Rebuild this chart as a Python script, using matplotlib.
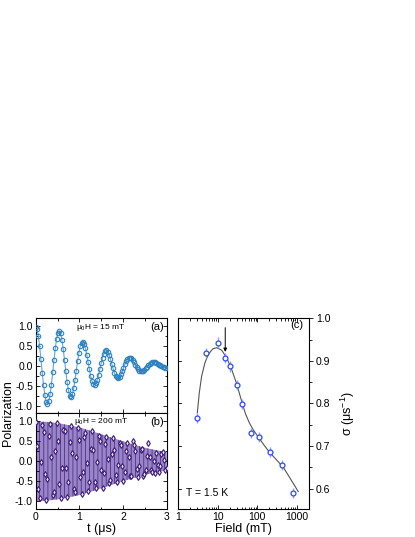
import numpy as np
import matplotlib
matplotlib.use('Agg')
import matplotlib.pyplot as plt
from matplotlib.ticker import MultipleLocator, LogLocator, NullFormatter

plt.rcParams['font.family'] = ['Liberation Sans', 'DejaVu Sans']
plt.rcParams['mathtext.fontset'] = 'custom'
plt.rcParams['mathtext.rm'] = 'Liberation Sans'
plt.rcParams['mathtext.it'] = 'Liberation Sans:italic'
plt.rcParams['hatch.linewidth'] = 0.6

# ---- panel (a): 15 mT, time step 0.03 us
t_a = [round(0.03 * i, 2) for i in range(101)]
p_a = [0.99, 0.94, 0.76, 0.49, 0.17, -0.17, -0.49, -0.74, -0.91, -0.96,
       -0.89, -0.72, -0.47, -0.16, 0.16, 0.45, 0.69, 0.84, 0.88, 0.82,
       0.66, 0.43, 0.15, -0.14, -0.41, -0.62, -0.75, -0.79, -0.72, -0.57,
       -0.36, -0.12, 0.12, 0.33, 0.49, 0.58, 0.60, 0.55, 0.44, 0.28,
       0.09, -0.09, -0.26, -0.38, -0.45, -0.47, -0.43, -0.35, -0.22, -0.08,
       0.07, 0.21, 0.31, 0.38, 0.39, 0.36, 0.28, 0.18, 0.06, -0.06,
       -0.17, -0.25, -0.29, -0.30, -0.27, -0.21, -0.14, -0.05, 0.04, 0.12,
       0.18, 0.21, 0.21, 0.19, 0.15, 0.09, 0.03, -0.03, -0.08, -0.12,
       -0.14, -0.14, -0.13, -0.10, -0.06, -0.02, 0.02, 0.05, 0.08, 0.09,
       0.10, 0.09, 0.07, 0.05, 0.03, 0.01, -0.01, -0.03, -0.04, -0.05,
       -0.05]

# ---- panel (b): 200 mT, envelope of the fast oscillation and data
t_env = [0, 0.25, 0.5, 0.75, 1.0, 1.25, 1.5, 1.75, 2.0, 2.25, 2.5, 2.75, 3.0]
amp_env = [1.0, 0.99, 0.96, 0.91, 0.85, 0.77, 0.68, 0.59, 0.50, 0.42, 0.34, 0.28, 0.23]

t_b = [round(0.03 * i, 2) for i in range(101)]
p_b = [0.98, 0.39, -0.70, -0.93, -0.02, 0.90, 0.73, -0.33, -0.97, -0.44,
       0.63, 0.94, 0.10, -0.85, -0.77, 0.25, 0.95, 0.50, -0.56, -0.92,
       -0.16, 0.78, 0.77, -0.18, -0.90, -0.52, 0.48, 0.89, 0.21, -0.70,
       -0.76, 0.10, 0.83, 0.54, -0.40, -0.83, -0.26, 0.61, 0.72, -0.04,
       -0.74, -0.53, 0.31, 0.76, 0.28, -0.52, -0.67, -0.01, 0.64, 0.50,
       -0.23, -0.67, -0.29, 0.43, 0.61, 0.06, -0.54, -0.47, 0.17, 0.58,
       0.29, -0.34, -0.53, -0.09, 0.45, 0.42, -0.11, -0.49, -0.27, 0.26,
       0.46, 0.10, -0.36, -0.38, 0.50, 0.41, 0.25, -0.19, -0.39, -0.11,
       0.28, 0.32, -0.36, -0.32, -0.22, 0.14, 0.47, 0.11, -0.22, -0.28,
       0.00, -0.30, 0.20, -0.10, -0.27, -0.11, 0.17, 0.24, 0.02, -0.21,
       -0.18]

# ---- panel (c): relaxation rate vs field
field = [3.06, 5.16, 10.2, 15.3, 20.4, 30.6, 40.2, 69, 112, 207, 417, 776]
sigma = [0.766, 0.918, 0.943, 0.906, 0.887, 0.843, 0.798, 0.730, 0.721, 0.686, 0.656, 0.590]
sigma_err = [0.012] * len(field)

fit_field = [3.07, 3.44, 3.94, 4.79, 5.81, 7.46, 9.42, 12.6, 16.9, 22.5, 30.1,
             40.2, 50, 63, 80, 104, 150, 208, 300, 450, 660, 1070]
fit_sigma = [0.778, 0.825, 0.864, 0.896, 0.915, 0.928, 0.931, 0.925, 0.907, 0.880, 0.846,
             0.805, 0.776, 0.754, 0.737, 0.722, 0.701, 0.684, 0.668, 0.650, 0.625, 0.593]

fig = plt.figure(figsize=(4.15, 5.37), dpi=100)
ax_a = fig.add_axes([0.086, 0.230, 0.3157, 0.1773])
ax_b = fig.add_axes([0.086, 0.0521, 0.3157, 0.1779])
ax_c = fig.add_axes([0.4289, 0.0521, 0.3157, 0.3552])

tick_fs = 7.5
for ax in (ax_a, ax_b):
    ax.set_xlim(0, 3)
    ax.set_ylim(-1.2, 1.2)
    ax.xaxis.set_major_locator(MultipleLocator(1))
    ax.xaxis.set_minor_locator(MultipleLocator(0.5))
    ax.yaxis.set_major_locator(MultipleLocator(0.5))
    ax.yaxis.set_minor_locator(MultipleLocator(0.25))
    ax.tick_params(which='both', direction='in', top=True, right=True, labelsize=tick_fs, pad=2)
    ax.tick_params(which='major', length=3, width=0.6)
    ax.tick_params(which='minor', length=1.8, width=0.6)
    for s in ax.spines.values():
        s.set_linewidth(0.8)
    ax.set_yticks([-1.0, -0.5, 0.0, 0.5, 1.0])
    ax.set_yticklabels(['-1.0', '-0.5', '0.0', '0.5', '1.0'])

ax_a.tick_params(labelbottom=False)

# (a)
ax_a.plot(t_a, p_a, '-', color='#5aaadd', lw=0.8, zorder=2)
ax_a.plot(t_a, p_a, 'o', ms=3.2, mfc='none', mec='#2f82c0', mew=0.8, zorder=3)
ax_a.text(1.5, 0.98, r'μ$_0$H = 15 mT', fontsize=6, ha='center', va='center')
ax_a.text(2.93, 0.98, '(a)', fontsize=8, ha='right', va='center')

# (b)
neg_env = [-a for a in amp_env]
ax_b.fill_between(t_env, neg_env, amp_env, facecolor='#9a86c6', edgecolor='#50308f',
                  hatch='||||', linewidth=0, zorder=1)
ax_b.plot(t_b, p_b, 'd', ms=3.0, mfc='#ece6f4', mec='#3a1a74', mew=0.8, zorder=3)
ax_b.text(1.5, 1.0, r'μ$_0$H = 200 mT', fontsize=6, ha='center', va='center')
ax_b.text(2.93, 0.98, '(b)', fontsize=8, ha='right', va='center')
ax_b.set_xticks([0, 1, 2, 3])
ax_b.set_xticklabels(['0', '1', '2', '3'])
ax_b.set_xlabel('t (μs)', fontsize=9, labelpad=1)

fig.text(0.02, 0.230, 'Polarization', rotation=90, fontsize=9, ha='center', va='center')

# (c)
ax_c.set_xscale('log')
ax_c.set_xlim(1, 2000)
ax_c.set_ylim(0.552, 1.0)
ax_c.plot(fit_field, fit_sigma, '-', color='#555555', lw=0.8, zorder=2)
ax_c.errorbar(field, sigma, yerr=sigma_err, fmt='o', ms=3.5, mfc='white', mec='#2a48ff',
              mew=0.9, ecolor='#8fa3f5', elinewidth=1.0, capsize=0, zorder=3)
ax_c.annotate('', xy=(15.5, 0.921), xytext=(15.5, 0.978),
              arrowprops=dict(arrowstyle='-|>', color='black', lw=0.7,
                              mutation_scale=5, shrinkA=0, shrinkB=0))
ax_c.text(1000, 0.985, '(c)', fontsize=8, ha='center', va='center')
ax_c.text(1.6, 0.590, 'T = 1.5 K', fontsize=7.5, ha='left', va='center')
ax_c.xaxis.set_minor_locator(LogLocator(base=10, subs=np.arange(2, 10), numticks=20))
ax_c.xaxis.set_minor_formatter(NullFormatter())
ax_c.set_xticks([1, 10, 100, 1000])
ax_c.set_xticklabels(['1', '10', '100', '1000'])
ax_c.yaxis.set_minor_locator(MultipleLocator(0.05))
ax_c.yaxis.tick_right()
ax_c.yaxis.set_label_position('right')
ax_c.set_yticks([0.6, 0.7, 0.8, 0.9, 1.0])
ax_c.set_yticklabels(['0.6', '0.7', '0.8', '0.9', '1.0'])
ax_c.tick_params(which='both', direction='in', top=True, labelsize=tick_fs, pad=2)
ax_c.tick_params(axis='y', which='both', direction='out', right=True, left=False)
ax_c.tick_params(which='major', length=3, width=0.6)
ax_c.tick_params(which='minor', length=1.8, width=0.6)
for s in ax_c.spines.values():
    s.set_linewidth(0.8)
# inward ticks on the left spine
ytr = ax_c.get_yaxis_transform()
for i, yv in enumerate(np.arange(0.6, 1.0, 0.05)):
    ln = 0.023 if i % 2 == 0 else 0.014
    ax_c.plot([0, ln], [yv, yv], color='black', lw=0.6, transform=ytr, clip_on=False, zorder=1)
ax_c.set_xlabel('Field (mT)', fontsize=9, labelpad=1)
ax_c.set_ylabel(r'σ (μs$^{-1}$)', fontsize=9, labelpad=6)

fig.savefig('out.png', dpi=100)
